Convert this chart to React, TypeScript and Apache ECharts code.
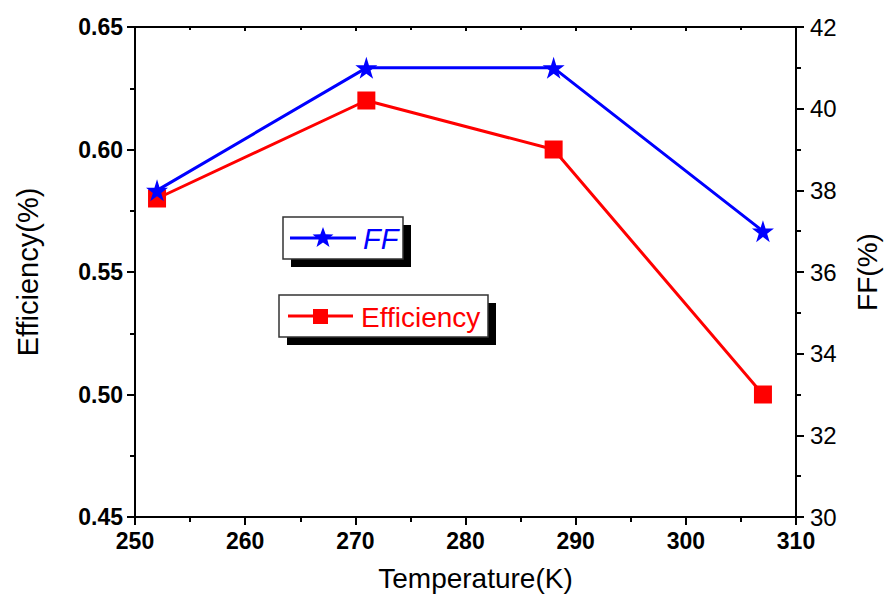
import React, { useEffect, useRef } from "react";
import * as echarts from "echarts";

const temperatures = [252, 271, 288, 307];
const efficiency = [0.58, 0.62, 0.6, 0.5];
const ff = [38, 41, 41, 37];

const STAR =
  "path://M0,-10L2.245,-3.09L9.511,-3.09L3.633,1.18L5.878,8.09L0,3.82L-5.878,8.09L-3.633,1.18L-9.511,-3.09L-2.245,-3.09Z";

function starPoints(cx: number, cy: number, ro: number, ri: number) {
  const pts: number[][] = [];
  for (let i = 0; i < 10; i++) {
    const r = i % 2 === 0 ? ro : ri;
    const a = -Math.PI / 2 + (i * Math.PI) / 5;
    pts.push([cx + r * Math.cos(a), cy + r * Math.sin(a)]);
  }
  return pts;
}

export default function App() {
  const ref = useRef<HTMLDivElement>(null);
  useEffect(() => {
    document.body.style.margin = "0";
    if (!ref.current) return;
    const chart = echarts.init(ref.current, null, { renderer: "svg" });
    const font = "Liberation Sans, Arial, sans-serif";
    const axisLine = { show: true, lineStyle: { color: "#000", width: 2 } };
    chart.setOption({
      animation: false,
      backgroundColor: "#fff",
      grid: { left: 135, right: 89, top: 27, bottom: 82, containLabel: false, outerBoundsMode: "none" },
      xAxis: [
        {
          type: "value",
          min: 250,
          max: 310,
          interval: 10,
          position: "bottom",
          name: "Temperature(K)",
          nameLocation: "middle",
          nameGap: 47,
          nameTextStyle: { fontFamily: font, fontSize: 28, color: "#000", padding: [0, 0, 0, 20] },
          axisLine,
          axisTick: { show: true, inside: false, length: 8, lineStyle: { width: 2, color: "#000" } },
          minorTick: { show: true, splitNumber: 2, length: 5, lineStyle: { width: 2, color: "#000" } },
          axisLabel: { fontFamily: font, fontSize: 23, fontWeight: "bold", color: "#000", margin: 12 },
          splitLine: { show: false },
        },
        {
          type: "value",
          min: 250,
          max: 310,
          interval: 10,
          position: "top",
          axisLine,
          axisTick: { show: true, inside: true, length: 4, lineStyle: { width: 2, color: "#000" } },
          minorTick: { show: true, splitNumber: 2, length: 3, lineStyle: { width: 2, color: "#000" } },
          axisLabel: { show: false },
          splitLine: { show: false },
        },
      ],
      yAxis: [
        {
          type: "value",
          min: 0.45,
          max: 0.65,
          interval: 0.05,
          position: "left",
          name: "Efficiency(%)",
          nameLocation: "middle",
          nameGap: 93,
          nameTextStyle: { fontFamily: font, fontSize: 29, color: "#000" },
          axisLine,
          axisTick: { show: true, inside: false, length: 8, lineStyle: { width: 2, color: "#000" } },
          minorTick: { show: true, splitNumber: 2, length: 5, lineStyle: { width: 2, color: "#000" } },
          axisLabel: {
            fontFamily: font,
            fontSize: 23,
            fontWeight: "bold",
            color: "#000",
            margin: 12,
            formatter: (v: number) => v.toFixed(2),
          },
          splitLine: { show: false },
        },
        {
          type: "value",
          min: 30,
          max: 42,
          interval: 2,
          position: "right",
          name: "FF(%)",
          nameLocation: "middle",
          nameGap: 57,
          nameRotate: 90,
          nameTextStyle: { fontFamily: font, fontSize: 28, color: "#000" },
          axisLine,
          axisTick: { show: true, inside: false, length: 8, lineStyle: { width: 2, color: "#000" } },
          minorTick: { show: true, splitNumber: 2, length: 5, lineStyle: { width: 2, color: "#000" } },
          axisLabel: { fontFamily: font, fontSize: 24, color: "#000", margin: 14 },
          splitLine: { show: false },
        },
      ],
      series: [
        {
          name: "Efficiency",
          type: "line",
          xAxisIndex: 0,
          yAxisIndex: 0,
          data: temperatures.map((t, i) => [t, efficiency[i]]),
          symbol: "rect",
          symbolSize: 18,
          lineStyle: { color: "#ff0000", width: 3 },
          itemStyle: { color: "#ff0000" },
          z: 2,
        },
        {
          name: "FF",
          type: "line",
          xAxisIndex: 0,
          yAxisIndex: 1,
          data: temperatures.map((t, i) => [t, ff[i]]),
          symbol: STAR,
          symbolSize: 22,
          lineStyle: { color: "#0000ff", width: 3 },
          itemStyle: { color: "#0000ff" },
          z: 3,
        },
      ],
      graphic: [
        // FF legend box
        { type: "rect", shape: { x: 291, y: 225, width: 120, height: 42 }, style: { fill: "#000" }, z: 10 },
        { type: "rect", shape: { x: 283, y: 217, width: 120, height: 42 }, style: { fill: "#fff", stroke: "#333", lineWidth: 1.5 }, z: 11 },
        { type: "line", shape: { x1: 290, y1: 238, x2: 356, y2: 238 }, style: { stroke: "#0000ff", lineWidth: 3 }, z: 12 },
        { type: "polygon", shape: { points: starPoints(323, 238, 11, 4.5) }, style: { fill: "#0000ff" }, z: 13 },
        {
          type: "text",
          x: 363,
          y: 239,
          style: { text: "FF", fill: "#0000ff", fontFamily: font, fontSize: 29, fontStyle: "italic", verticalAlign: "middle", align: "left" },
          z: 13,
        },
        // Efficiency legend box
        { type: "rect", shape: { x: 287, y: 303, width: 209, height: 42 }, style: { fill: "#000" }, z: 10 },
        { type: "rect", shape: { x: 279, y: 295, width: 209, height: 42 }, style: { fill: "#fff", stroke: "#333", lineWidth: 1.5 }, z: 11 },
        { type: "line", shape: { x1: 288, y1: 316, x2: 353, y2: 316 }, style: { stroke: "#ff0000", lineWidth: 3 }, z: 12 },
        { type: "rect", shape: { x: 313, y: 309, width: 15, height: 15 }, style: { fill: "#ff0000" }, z: 13 },
        {
          type: "text",
          x: 361,
          y: 317,
          style: { text: "Efficiency", fill: "#ff0000", fontFamily: font, fontSize: 28, verticalAlign: "middle", align: "left" },
          z: 13,
        },
      ],
    });
    return () => chart.dispose();
  }, []);
  return <div ref={ref} style={{ width: 885, height: 599 }} />;
}
